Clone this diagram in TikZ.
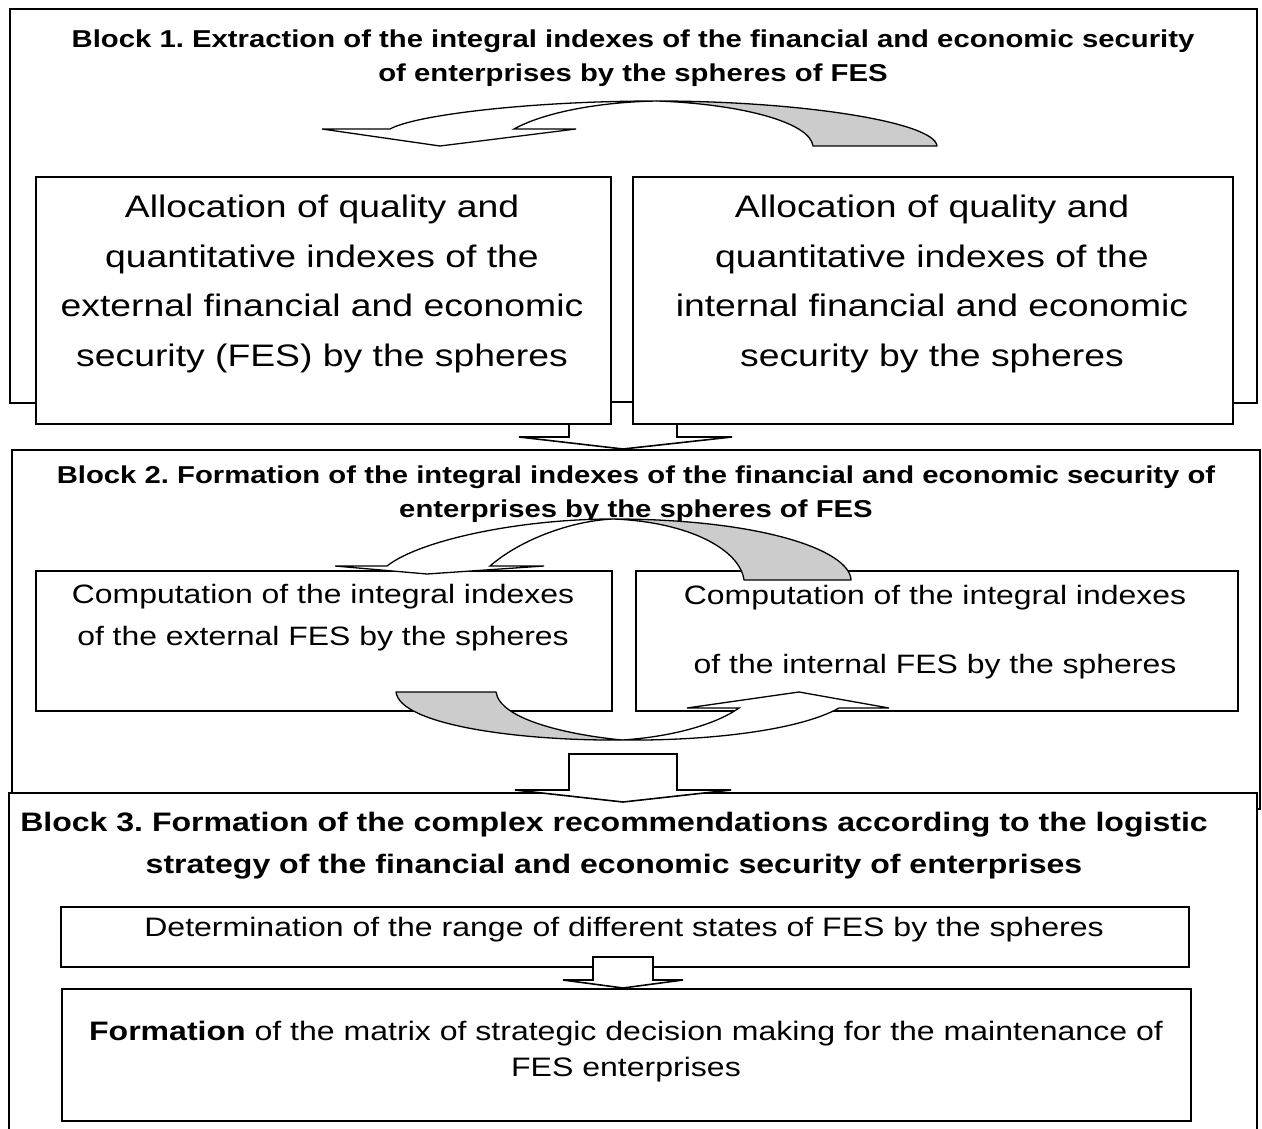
\documentclass[tikz,border=0pt]{standalone}
\usepackage{fontspec}
\setmainfont{Liberation Sans}[FakeStretch=1.2]
\newcommand{\setfs}[2]{\fontsize{#1}{#2}\selectfont}
\frenchspacing
\tikzset{
  frame/.style={draw, line width=1.6pt, fill=white, inner sep=0pt, anchor=north west},
  txt/.style={align=center, inner sep=0pt},
  backside/.style={draw, line width=1.3pt, fill=gray!40, line join=round},
  frontside/.style={draw, line width=1.3pt, fill=white, line join=miter},
  blockarrow/.style={draw, line width=1.6pt, fill=white, line join=miter}
}
\begin{document}
\begin{tikzpicture}[x=1pt, y=-1pt]
\useasboundingbox[fill=white] (0,0) rectangle (1262,1129);

% ---------- Block 1 ----------
\node[frame, minimum width=1247pt, minimum height=394pt] (blk1) at (9,8) {};
\node[txt, font=\bfseries\setfs{24.4}{34}] (blk1t) at (633,58)
  {Block 1. Extraction of the integral indexes of the financial and economic security\\of enterprises by the spheres of FES};

% curved arrow in block 1
\draw[backside] (657,101) .. controls (800,101) and (935,122) .. (937,146)
  -- (813,146) .. controls (810,122) and (740,104) .. (657,101) -- cycle;
\draw[frontside] (657,101) .. controls (530,101) and (415,115) .. (390,129)
  -- (322,129) -- (440,146) -- (576,129) -- (514,129)
  .. controls (545,112) and (600,102) .. (657,101) -- cycle;

% arrow block 1 -> block 2
\draw[blockarrow] (569,402) -- (677,402) -- (677,437) -- (732,437) -- (623,449)
  -- (519,437) -- (569,437) -- cycle;

\node[frame, minimum width=575pt, minimum height=247pt] (ext1) at (35,176) {};
\node[frame, minimum width=600pt, minimum height=247pt] (int1) at (632,176) {};
\node[txt, font=\setfs{31.1}{49.5}] (ext1t) at (322,284)
  {Allocation of quality and\\quantitative indexes of the\\external financial and economic\\security (FES) by the spheres};
\node[txt, font=\setfs{31.1}{49.5}] (int1t) at (932,284)
  {Allocation of quality and\\quantitative indexes of the\\internal financial and economic\\security by the spheres};

% ---------- Block 2 ----------
\node[frame, minimum width=1248pt, minimum height=359pt] (blk2) at (11,449) {};
\node[txt, font=\bfseries\setfs{24.4}{34}] (blk2t) at (636,494)
  {Block 2. Formation of the integral indexes of the financial and economic security of\\enterprises by the spheres of FES};

\node[frame, minimum width=576pt, minimum height=140pt] (ext2) at (35,570) {};
\node[frame, minimum width=602pt, minimum height=140pt] (int2) at (635,570) {};
\node[txt, font=\setfs{26.6}{42}] (ext2t) at (323,618)
  {Computation of the integral indexes\\of the external FES by the spheres};
\node[txt, font=\setfs{26.6}{42}] (int2t) at (935,632)
  {Computation of the integral indexes\\[27pt]of the internal FES by the spheres};

% curved arrow at top of block 2
\draw[backside] (613,519) .. controls (760,519) and (850,550) .. (851,580)
  -- (744,580) .. controls (740,550) and (690,522) .. (613,519) -- cycle;
\draw[frontside] (613,519) .. controls (520,519) and (420,540) .. (387,566)
  -- (335,566) -- (427,574) -- (544,566) -- (490,566)
  .. controls (520,540) and (570,521) .. (613,519) -- cycle;

% curved arrow at bottom of block 2
\draw[backside] (396,692) .. controls (400,725) and (520,741) .. (622,740)
  .. controls (570,735) and (500,720) .. (496,692) -- cycle;
\draw[frontside] (622,740) .. controls (710,741) and (800,730) .. (839,708)
  -- (889,708) -- (799,692) -- (687,708) -- (739,708)
  .. controls (715,725) and (670,737) .. (622,740) -- cycle;

% ---------- Block 3 ----------
\node[frame, minimum width=1248pt, minimum height=350pt] (blk3) at (8,792) {};

% arrow block 2 -> block 3
\draw[blockarrow] (569,754) -- (677,754) -- (677,790) -- (731,790) -- (623,802)
  -- (515,790) -- (569,790) -- cycle;

\node[txt, font=\bfseries\setfs{26.7}{42}] (blk3t) at (614,846)
  {Block 3. Formation of the complex recommendations according to the logistic\\strategy of the financial and economic security of enterprises};

\node[frame, minimum width=1128pt, minimum height=60pt] (range) at (60,906) {};
\node[txt, font=\setfs{26.7}{36}] (ranget) at (624,930)
  {Determination of the range of different states of FES by the spheres};

\draw[blockarrow] (593,957) -- (653,957) -- (653,980) -- (683,980) -- (623,988)
  -- (563,980) -- (593,980) -- cycle;

\node[frame, minimum width=1129pt, minimum height=132pt] (matrix) at (61,988) {};
\node[txt, font=\setfs{26.7}{36}] (matrixt) at (626,1052)
  {\textbf{Formation} of the matrix of strategic decision making for the maintenance of\\FES enterprises};
\end{tikzpicture}
\end{document}
